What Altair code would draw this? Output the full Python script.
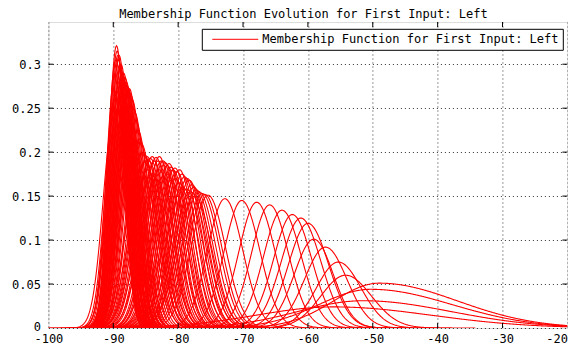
import altair as alt
import numpy as np
import pandas as pd

# ---- values ----
# peak position (dBm) of each membership function
means = [
    -89.7, -89.6, -89.5, -89.4, -89.3, -89.2, -89.1, -89.0, -88.9, -88.8,
    -88.7, -88.6, -88.5, -88.4, -88.3, -88.2, -88.1, -88.0, -87.9, -87.8,
    -87.7, -87.6, -87.5, -87.3, -87.1, -86.9, -86.7, -86.5, -86.2, -86.0,
    -89.9, -89.7, -89.5, -89.3, -89.1, -88.9, -88.7, -88.5, -88.3, -88.1,
    -87.9, -87.7, -87.5, -87.3, -87.1, -86.9,
    -85.7, -85.4, -85.2, -85.0, -84.8, -84.5, -84.3, -84.0, -83.7, -83.4,
    -83.1, -82.9, -82.6, -82.3, -82.0, -81.7, -81.4, -81.1, -80.8, -80.5,
    -80.2, -79.8, -79.4, -79.0, -78.6, -78.3, -77.9, -77.6, -77.2, -76.8,
    -76.3, -75.9,
    -85.9, -85.3, -84.7, -84.1, -83.5, -82.9, -82.3, -81.7, -81.1, -80.5,
    -79.9, -79.3, -78.7, -78.1, -77.5,
    -75.4, -72.8, -70.2, -67.9, -65.9, -64.0, -62.4, -61.1, -60.0, -59.1,
    -57.3, -55.3, -54.2,
    -49.0, -50.3, -51.5, -56.0,
]
# peak heights
heights = [
    0.290, 0.305, 0.321, 0.315, 0.310, 0.305, 0.310, 0.300, 0.295, 0.300,
    0.290, 0.290, 0.285, 0.290, 0.280, 0.285, 0.275, 0.280, 0.270, 0.275,
    0.270, 0.270, 0.272, 0.265, 0.260, 0.250, 0.245, 0.235, 0.225, 0.215,
    0.240, 0.260, 0.270, 0.250, 0.280, 0.260, 0.270, 0.250, 0.260, 0.240,
    0.250, 0.230, 0.240, 0.220, 0.230, 0.210,
    0.210, 0.200, 0.197, 0.190, 0.195, 0.190, 0.193, 0.195, 0.190, 0.194,
    0.190, 0.195, 0.190, 0.190, 0.188, 0.185, 0.187, 0.183, 0.180, 0.182,
    0.178, 0.180, 0.175, 0.172, 0.170, 0.168, 0.163, 0.160, 0.157, 0.155,
    0.153, 0.152,
    0.180, 0.170, 0.180, 0.175, 0.170, 0.180, 0.172, 0.175, 0.168, 0.170,
    0.165, 0.160, 0.158, 0.155, 0.150,
    0.151, 0.147, 0.145, 0.143, 0.140, 0.134, 0.129, 0.125, 0.119, 0.101,
    0.092, 0.075, 0.060,
    0.051, 0.044, 0.031, 0.024,
]
# spread on the left / right of each peak
left_widths = [
    1.38, 1.31, 1.24, 1.27, 1.29, 1.31, 1.29, 1.33, 1.35, 1.33,
    1.38, 1.38, 1.40, 1.38, 1.42, 1.40, 1.45, 1.42, 1.48, 1.45,
    1.48, 1.48, 1.47, 1.51, 1.53, 1.60, 1.63, 1.70, 1.77, 1.86,
    1.66, 1.53, 1.48, 1.60, 1.42, 1.53, 1.48, 1.60, 1.53, 1.66,
    1.60, 1.73, 1.66, 1.81, 1.73, 1.90,
    1.90, 1.99, 2.03, 2.10, 2.05, 2.10, 2.07, 2.05, 2.10, 2.06,
    2.10, 2.05, 2.10, 2.10, 2.12, 2.16, 2.13, 2.18, 2.22, 2.19,
    2.24, 2.22, 2.28, 2.32, 2.35, 2.37, 2.45, 2.49, 2.54, 2.57,
    2.61, 2.62,
    2.22, 2.35, 2.22, 2.28, 2.35, 2.22, 2.32, 2.28, 2.37, 2.35,
    2.42, 2.49, 2.52, 2.57, 2.66,
    2.60, 2.65, 2.70, 2.75, 2.80, 2.85, 2.90, 3.00, 3.00, 3.00,
    3.20, 3.40, 3.80,
    7.0, 8.0, 10.0, 12.0,
]
right_widths = [
    1.38, 1.31, 1.24, 1.27, 1.29, 1.31, 1.29, 1.33, 1.35, 1.33,
    1.38, 1.38, 1.40, 1.38, 1.42, 1.40, 1.45, 1.42, 1.48, 1.45,
    1.48, 1.48, 1.47, 1.51, 1.53, 1.60, 1.63, 1.70, 1.77, 1.86,
    1.66, 1.53, 1.48, 1.60, 1.42, 1.53, 1.48, 1.60, 1.53, 1.66,
    1.60, 1.73, 1.66, 1.81, 1.73, 1.90,
    1.90, 1.99, 2.03, 2.10, 2.05, 2.10, 2.07, 2.05, 2.10, 2.06,
    2.10, 2.05, 2.10, 2.10, 2.12, 2.16, 2.13, 2.18, 2.22, 2.19,
    2.24, 2.22, 2.28, 2.32, 2.35, 2.37, 2.45, 2.49, 2.54, 2.57,
    2.61, 2.62,
    2.22, 2.35, 2.22, 2.28, 2.35, 2.22, 2.32, 2.28, 2.37, 2.35,
    2.42, 2.49, 2.52, 2.57, 2.66,
    2.70, 2.75, 2.80, 2.85, 2.90, 3.00, 3.00, 3.10, 3.20, 3.00,
    3.30, 3.50, 4.00,
    12.0, 12.5, 13.5, 15.0,
]
x_ticks = [-100, -90, -80, -70, -60, -50, -40, -30, -20]
y_ticks = [0, 0.05, 0.1, 0.15, 0.2, 0.25, 0.3]
title_text = "Membership Function Evolution for First Input: Left"
legend_label = "Membership Function for First Input: Left"

# ---- build curve table ----
grid = np.round(np.arange(-100, -20 + 1e-9, 0.1), 1)
frames = []
for i, (m, h, sl, sr) in enumerate(zip(means, heights, left_widths, right_widths)):
    xs = grid[(grid >= m - 5 * sl) & (grid <= m + 5 * sr)]
    s = np.where(xs < m, sl, sr)
    ys = h * np.exp(-0.5 * ((xs - m) / s) ** 2)
    frames.append(pd.DataFrame({"x": xs, "y": np.round(ys, 5), "curve": i,
                                "series": legend_label}))
df = pd.concat(frames, ignore_index=True)

W, H = 519, 306
FONT = "DejaVu Sans Mono"

xscale = alt.Scale(domain=[-100, -20], nice=False, zero=False)
yscale = alt.Scale(domain=[0, 0.348], nice=False, zero=True)
xaxis = alt.Axis(values=x_ticks, labelExpr="toString(datum.value)",
                 grid=True, ticks=False, domain=False,
                 gridDash=[1, 3], gridColor="black", gridOpacity=0.8,
                 labelPadding=14, labelBaseline="alphabetic",
                 labelAlign={"condition": {"test": "datum.value == -20",
                                           "value": "right"},
                             "value": "center"},
                 labelFont=FONT, labelFontSize=12,
                 labelColor="black", labelFlush=False, title="")
yaxis = alt.Axis(values=y_ticks, labelExpr="toString(datum.value)",
                 grid=True, ticks=False, domain=False,
                 gridDash=[1, 3], gridColor="black", gridOpacity=0.8,
                 labelPadding=8, labelFont=FONT, labelFontSize=12,
                 labelOffset={"condition": {"test": "datum.value == 0",
                                            "value": -2},
                              "value": 0},
                 labelColor="black", labelFlush=False, title="")


def xenc(field):
    return alt.X(f"{field}:Q", scale=xscale, axis=xaxis)


def yenc(field):
    return alt.Y(f"{field}:Q", scale=yscale, axis=yaxis)


curves = alt.Chart(df).mark_line(strokeWidth=1.1, clip=True).encode(
    x=xenc("x"),
    y=yenc("y"),
    color=alt.Color("series:N", scale=alt.Scale(range=["#ff0000"]),
                    legend=alt.Legend(title=None, orient="none",
                                      legendX=153.4, legendY=6.8,
                                      symbolType="M0,0H8", symbolSize=132,
                                      symbolStrokeWidth=1, labelFont=FONT,
                                      labelFontSize=12, labelColor="black",
                                      labelOffset=43.5, padding=4,
                                      strokeColor="black", fillColor="white",
                                      labelLimit=400)),
    detail="curve:N",
)

xt = pd.DataFrame({"x": x_ticks[1:-1]})
yt = pd.DataFrame({"y": y_ticks[1:]})
tick_bottom = alt.Chart(xt).mark_rule(color="black", strokeWidth=1).encode(
    x=xenc("x"), y=alt.value(H), y2=alt.value(H - 5))
tick_top = alt.Chart(xt).mark_rule(color="black", strokeWidth=1).encode(
    x=xenc("x"), y=alt.value(0), y2=alt.value(5))
tick_left = alt.Chart(yt).mark_rule(color="black", strokeWidth=1).encode(
    y=yenc("y"), x=alt.value(0), x2=alt.value(5))
tick_right = alt.Chart(yt).mark_rule(color="black", strokeWidth=1).encode(
    y=yenc("y"), x=alt.value(W), x2=alt.value(W - 5))

title_mark = alt.Chart(pd.DataFrame({"t": [title_text]})).mark_text(
    font=FONT, fontSize=12, color="black", align="center",
    baseline="alphabetic", clip=False,
).encode(text="t:N", x=alt.value(255), y=alt.value(-4.5))

chart = alt.layer(curves, tick_bottom, tick_top, tick_left, tick_right,
                  title_mark).properties(
    width=W, height=H,
    autosize=alt.AutoSizeParams(type="none"),
    padding={"left": 40.4, "top": 14, "right": 0.6, "bottom": 19},
).configure_view(stroke="black", strokeWidth=1.5).configure(background="white")

chart.save("out.html", embed_options={"renderer": "svg", "actions": False})
